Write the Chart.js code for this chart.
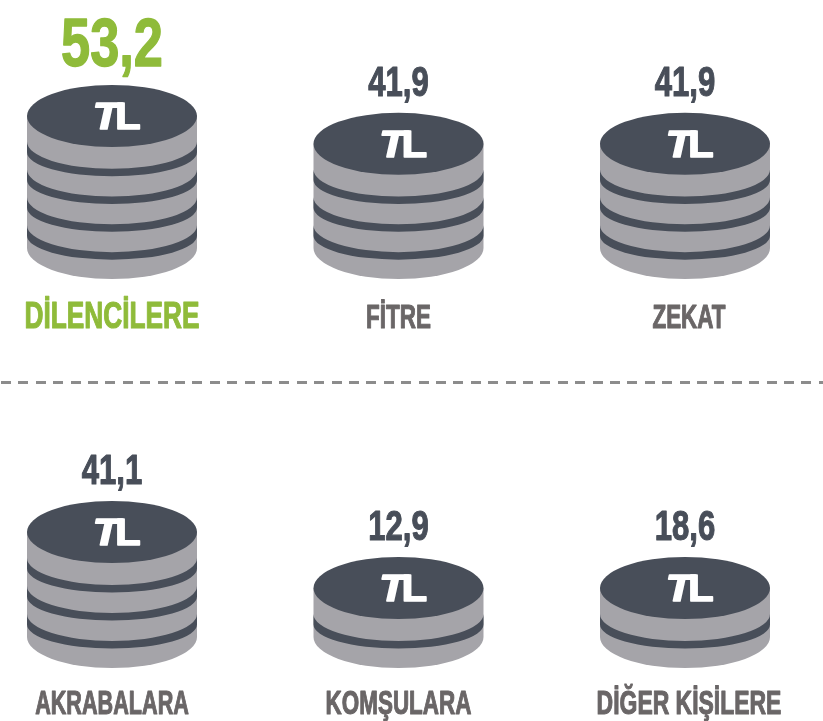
<!DOCTYPE html>
<html>
<head>
<meta charset="utf-8">
<script src="https://cdn.jsdelivr.net/npm/chart.js@4"></script>
<style>
    html, body { margin:0; padding:0; background:#fff; }
    #page { position:relative; width:823px; height:721px; overflow:hidden; }
    canvas { position:absolute; left:0; }
    #topRow { top:0; }
    #bottomRow { top:395px; }
    #divider {
        position:absolute; left:1px; top:381px; width:822px; height:3px;
        background:repeating-linear-gradient(to right, #8c8c8c 0 10px, transparent 10px 17.4px);
    }
</style>
</head>
<body>
<div id="page">
    <canvas id="topRow" width="823" height="345"></canvas>
    <div id="divider"></div>
    <canvas id="bottomRow" width="823" height="326"></canvas>
</div>
<script>
const topCategories = ['DİLENCİLERE', 'FİTRE', 'ZEKAT'];
const topValues = [53.2, 41.9, 41.9];
const topCoins = [5, 4, 4];

const bottomCategories = ['AKRABALARA', 'KOMŞULARA', 'DİĞER KİŞİLERE'];
const bottomValues = [41.1, 12.9, 18.6];
const bottomCoins = [4, 2, 2];

const GREEN = '#8fbb3a';
const DARK = '#484e59';
const SIDE = '#a5a4a9';
const LABEL_GREY = '#6a6667';
const FONT = '"Liberation Sans", sans-serif';
const COIN_MIN = 0.25;

// squeezed text, the reference font is narrower than anything installed.
// the thin stroke gives back the weight lost by the squeeze
function squeezedText(ctx, text, x, y, font, squeeze, color, weight) {
    ctx.save();
    ctx.translate(x, y);
    ctx.scale(squeeze, 1);
    ctx.font = font;
    ctx.fillStyle = color;
    ctx.strokeStyle = color;
    ctx.lineWidth = weight || 0;
    ctx.lineJoin = 'round';
    ctx.textAlign = 'center';
    ctx.textBaseline = 'alphabetic';
    ctx.fillText(text, 0, 0);
    if (weight) ctx.strokeText(text, 0, 0);
    ctx.restore();
}

function drawStack(ctx, bar, coinPx) {
    const x = bar.x, top = bar.y, base = bar.base, rx = bar.width / 2;

    ctx.fillStyle = SIDE;
    ctx.beginPath();
    ctx.moveTo(x - rx, top);
    ctx.lineTo(x - rx, base);
    ctx.ellipse(x, base, rx, 31, 0, Math.PI, 0, true);
    ctx.lineTo(x + rx, top);
    ctx.closePath();
    ctx.fill();

    // dark gaps between the coins
    ctx.fillStyle = DARK;
    for (let edge = top + coinPx - 2; edge < base - coinPx / 2; edge += coinPx) {
        ctx.beginPath();
        ctx.ellipse(x, edge, rx, 27, 0, Math.PI, 0, true);
        ctx.ellipse(x, edge + 10.5, rx, 24, 0, 0, Math.PI, false);
        ctx.closePath();
        ctx.fill();
    }

    ctx.beginPath();
    ctx.ellipse(x, top, rx, 31, 0, 0, Math.PI * 2);
    ctx.fill();

    squeezedText(ctx, 'T', x - 6, top + 13, 'italic bold 36px ' + FONT, 1.2, '#fff', 1.6);
    squeezedText(ctx, 'L', x + 16, top + 13, 'bold 36px ' + FONT, 1.15, '#fff', 1.6);
}

const coinStacks = {
    id: 'coinStacks',
    afterDatasetsDraw(chart, args, opts) {
        const ctx = chart.ctx;
        const y = chart.scales.y;
        const coinPx = y.getPixelForValue(0) - y.getPixelForValue(1);

        chart.getDatasetMeta(0).data.forEach((bar, i) => {
            drawStack(ctx, bar, coinPx);

            const hi = i === opts.highlight;
            const valueText = opts.values[i].toFixed(1).replace('.', ',');
            if (hi) {
                squeezedText(ctx, valueText, bar.x, bar.y - 50, 'bold 69px ' + FONT, 0.76, GREEN, 1.4);
            } else {
                squeezedText(ctx, valueText, bar.x, bar.y - 48, 'bold 42px ' + FONT, 0.74, DARK, 1.1);
            }
            squeezedText(ctx, chart.data.labels[i], bar.x + opts.labelShift[i], opts.labelY,
                (hi ? 'bold 37px ' : 'bold 33px ') + FONT, opts.labelSqueeze[i], hi ? GREEN : LABEL_GREY, 1.1);
        });
    }
};

function makeRow(id, categories, values, coins, maxCoins, padding, label) {
    new Chart(document.getElementById(id), {
        type: 'bar',
        data: {
            labels: categories,
            datasets: [{
                data: coins,
                base: COIN_MIN,
                backgroundColor: 'rgba(0,0,0,0)',
                barThickness: 170
            }]
        },
        options: {
            responsive: false,
            animation: false,
            layout: { padding: padding },
            plugins: {
                legend: { display: false },
                tooltip: { enabled: false },
                coinStacks: Object.assign({ values: values }, label)
            },
            scales: {
                x: { display: false, offset: false },
                y: { display: false, min: COIN_MIN, max: maxCoins }
            }
        },
        plugins: [coinStacks]
    });
}

makeRow('topRow', topCategories, topValues, topCoins, 5,
    { left: 112, right: 138, top: 116, bottom: 97 },
    { labelY: 328, highlight: 0, labelShift: [0, 0, 4], labelSqueeze: [0.71, 0.68, 0.68] });
makeRow('bottomRow', bottomCategories, bottomValues, bottomCoins, 4,
    { left: 112, right: 138, top: 137, bottom: 84 },
    { labelY: 319, highlight: -1, labelShift: [0, 0, 4], labelSqueeze: [0.655, 0.68, 0.695] });
</script>
</body>
</html>
